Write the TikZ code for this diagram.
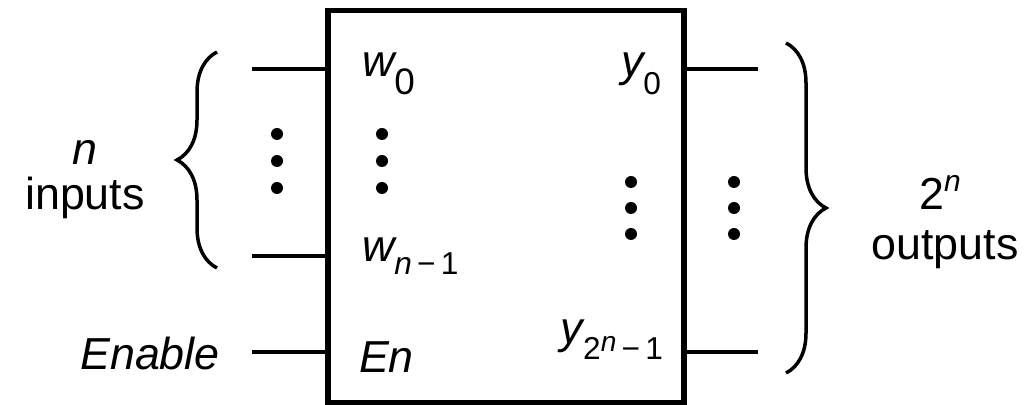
\documentclass[tikz,border=0pt]{standalone}
\usepackage{fontspec}
\setmainfont{Liberation Sans}
\usepackage{tikz}
\usetikzlibrary{decorations.pathreplacing}
\newcommand{\lblsize}{\fontsize{25.5}{30}\selectfont}
\newcommand{\subsize}{\fontsize{18}{20}\selectfont}
\newcommand{\supsize}{\fontsize{16}{18}\selectfont}
\newcommand{\sublbl}[3]{{\itshape #1}\raisebox{-#3}{\upshape #2}}

\begin{document}
\begin{tikzpicture}[
  x=0.2mm, y=0.2mm,
  every node/.style={font=\lblsize, inner sep=0pt, outer sep=0pt},
  decbox/.style={draw, line width=1.1mm, minimum width=71.2mm, minimum height=78.4mm},
  wire/.style={line width=0.75mm},
  bracket/.style={line width=0.7mm, decorate, decoration={brace, amplitude=8mm}},
]
  \useasboundingbox (0,0) rectangle (1032,405);

  % Decoder box
  \node[decbox] (dec) at (505.75,198.5) {};

  % Wire ends
  \coordinate (w0in) at (252,336);
  \coordinate (wn1in) at (252,149);
  \coordinate (enin) at (252,53);
  \coordinate (y0out) at (758,336);
  \coordinate (ylastout) at (758,53);

  % Wires
  \draw[wire] (w0in) -- (w0in -| dec.west);
  \draw[wire] (wn1in) -- (wn1in -| dec.west);
  \draw[wire] (enin) -- (enin -| dec.west);
  \draw[wire] (dec.east |- y0out) -- (y0out);
  \draw[wire] (dec.east |- ylastout) -- (ylastout);

  % Pin labels
  \node[anchor=base west] (w0) at (362,328)
    {\sublbl{w}{\fontsize{21}{22}\selectfont 0}{3.6mm}};
  \node[anchor=base west] (wn1) at (362,143)
    {\sublbl{w}{\subsize{\itshape n}\,−\,1}{2.6mm}};
  \node[anchor=base west] (en) at (359,32) {\itshape En};
  \node[anchor=base east] (y0) at (661,328)
    {\sublbl{y}{\subsize 0}{3.6mm}};
  \node[anchor=base east] (ylast) at (663,61)
    {\sublbl{y}{\subsize 2\raisebox{1.6mm}{\supsize\itshape n}\,−\,1}{3.2mm}};

  % Dots
  \fill (277,271) circle (1.2mm) (277,244) circle (1.2mm) (277,217) circle (1.2mm);
  \fill (382,271) circle (1.2mm) (382,244) circle (1.2mm) (382,217) circle (1.2mm);
  \fill (631,223) circle (1.2mm) (631,197) circle (1.2mm) (631,171) circle (1.2mm);
  \fill (734,223) circle (1.2mm) (734,197) circle (1.2mm) (734,171) circle (1.2mm);

  % Braces
  \draw[bracket] (217,137) -- (217,353);
  \draw[bracket] (786,362) -- (786,32);

  % Outer labels
  \node[anchor=base] (nlbl) at (85,240) {\itshape n};
  \node[anchor=base] (inlbl) at (85,195) {inputs};
  \node[anchor=base] (enlbl) at (150,35) {\itshape Enable};
  \node[anchor=base] (twon) at (940,195) {2\raisebox{3.6mm}{\fontsize{17}{19}\selectfont\itshape n}};
  \node[anchor=base] (outlbl) at (945,145) {outputs};

\end{tikzpicture}
\end{document}
